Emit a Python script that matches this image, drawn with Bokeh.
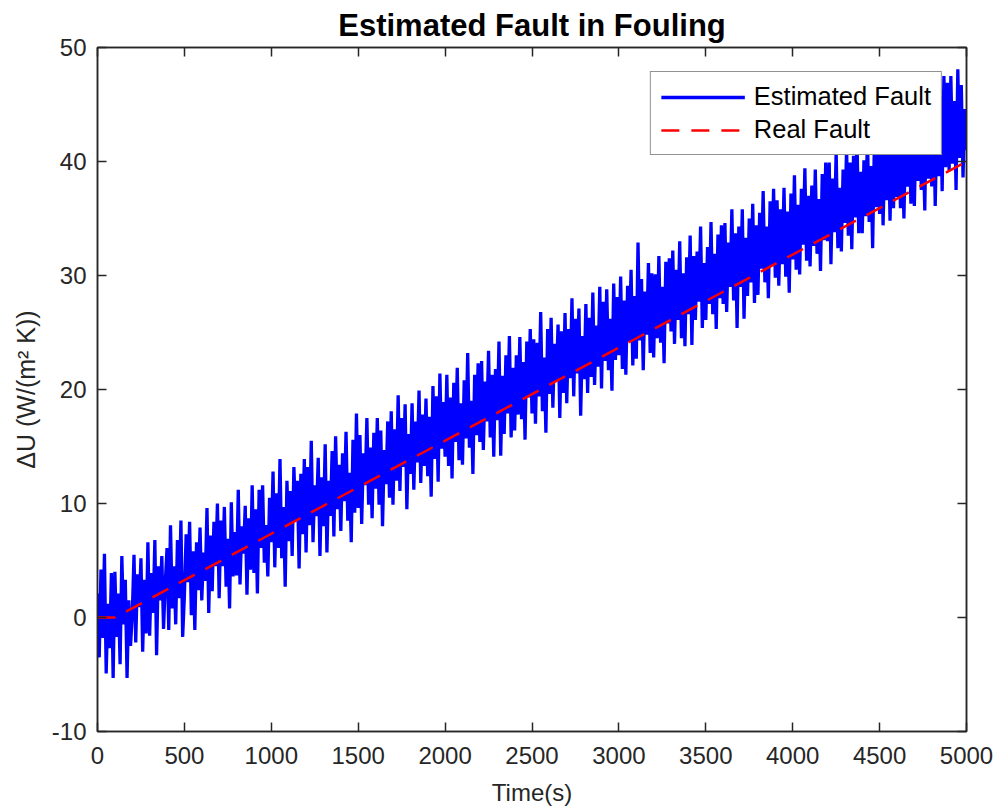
from bokeh.plotting import figure
from bokeh.models import Range1d, LinearAxis, FixedTicker, Legend, LegendItem
from bokeh.embed import file_html
from bokeh.resources import INLINE

# ---------------- data ----------------
time_s = list(range(0, 5001, 10))

estimated_fault = [
    2.1, -3.5, 4.2, -1.8, 5.6, -4.9, 1.2, -2.7, 3.9, -5.3,
    4.0, -1.7, 2.1, -4.1, 5.4, -0.6, 3.3, -5.3, 1.5, -2.5,
    0.2, 5.5, -2.2, 3.8, 0.9, 5.2, -3.0, 3.3, -1.4, 6.6,
    -1.6, 3.9, 0.4, 6.8, -3.3, 4.5, 1.5, 5.4, -1.0, 3.0,
    6.1, -1.1, 8.1, 0.8, 4.5, -0.6, 6.8, 1.7, 8.5, -1.7,
    1.9, 7.3, 3.1, 8.4, 0.2, 5.8, -1.1, 6.6, 2.4, 7.9,
    1.5, 5.7, 3.2, 9.6, 0.4, 7.2, 2.3, 8.4, 4.5, 10.0,
    1.7, 8.5, 4.5, 9.7, 2.7, 6.9, 0.8, 10.1, 3.6, 7.5,
    3.7, 11.2, 2.9, 8.0, 5.6, 9.8, 2.0, 8.7, 4.2, 11.6,
    3.9, 9.5, 2.1, 11.2, 6.1, 11.6, 4.8, 8.1, 3.6, 10.5,
    6.6, 12.8, 4.4, 10.9, 6.1, 13.9, 5.2, 9.7, 2.7, 12.0,
    6.7, 11.1, 5.4, 13.2, 8.5, 12.0, 4.3, 12.6, 7.3, 13.9,
    5.7, 13.2, 8.1, 15.5, 6.6, 11.6, 8.9, 14.0, 5.4, 12.3,
    8.0, 15.2, 5.7, 12.0, 8.9, 14.6, 7.1, 15.9, 9.5, 13.4,
    7.6, 14.4, 10.2, 16.3, 8.5, 12.7, 6.6, 15.6, 9.2, 17.9,
    9.6, 16.0, 8.2, 14.4, 11.6, 17.5, 9.9, 14.9, 8.7, 16.2,
    11.3, 17.5, 9.9, 16.4, 8.0, 14.7, 11.7, 17.2, 10.5, 18.1,
    9.9, 16.5, 12.0, 19.5, 11.1, 17.5, 13.2, 18.7, 9.5, 16.1,
    12.6, 18.8, 11.2, 17.2, 13.6, 19.9, 11.8, 17.8, 13.3, 19.2,
    12.4, 17.6, 10.6, 20.3, 13.9, 19.4, 11.9, 21.4, 14.8, 18.9,
    14.1, 21.3, 13.3, 19.3, 12.2, 20.6, 15.4, 21.9, 13.8, 18.8,
    13.4, 20.8, 15.7, 23.2, 14.9, 19.0, 12.6, 21.3, 16.0, 22.3,
    15.4, 22.5, 14.7, 20.7, 17.2, 23.4, 15.8, 21.3, 14.1, 21.8,
    17.3, 24.2, 14.2, 21.2, 16.1, 23.0, 17.9, 24.7, 15.8, 21.9,
    16.4, 23.0, 17.8, 24.6, 17.4, 22.4, 15.6, 24.2, 19.3, 25.3,
    17.9, 24.4, 17.0, 24.1, 19.4, 26.8, 18.1, 22.8, 16.2, 25.3,
    19.6, 26.3, 18.4, 24.0, 20.8, 25.7, 17.5, 25.1, 19.7, 26.7,
    18.8, 25.3, 21.0, 28.0, 19.4, 26.2, 21.4, 27.1, 17.7, 24.7,
    20.9, 27.5, 19.7, 26.3, 21.1, 28.5, 20.4, 25.6, 22.0, 29.0,
    20.1, 27.7, 22.5, 28.8, 21.7, 26.2, 19.9, 29.3, 22.6, 28.1,
    23.0, 29.9, 21.8, 27.8, 21.3, 29.1, 24.2, 30.5, 22.1, 28.2,
    22.7, 32.9, 24.3, 29.7, 21.7, 28.6, 24.8, 31.1, 23.2, 30.2,
    22.8, 30.1, 24.5, 31.7, 24.1, 29.0, 22.3, 31.2, 25.8, 31.5,
    25.1, 32.2, 24.0, 30.5, 26.1, 33.0, 24.5, 30.2, 23.8, 31.6,
    26.6, 33.5, 23.9, 31.7, 26.1, 32.1, 27.7, 34.3, 25.4, 31.1,
    26.1, 32.5, 27.5, 34.7, 26.6, 31.9, 25.3, 33.6, 28.0, 34.4,
    27.5, 34.6, 26.8, 32.9, 29.0, 35.8, 27.8, 33.7, 25.4, 34.3,
    29.0, 35.8, 26.2, 33.3, 28.2, 35.0, 29.4, 36.3, 27.6, 34.4,
    28.3, 35.5, 30.6, 37.4, 29.4, 34.3, 28.0, 36.5, 30.9, 37.6,
    29.8, 36.6, 29.1, 35.8, 31.0, 37.7, 29.9, 35.6, 28.5, 37.2,
    31.4, 38.8, 30.5, 36.2, 30.1, 37.6, 32.7, 39.4, 31.3, 37.0,
    30.8, 37.9, 32.6, 39.3, 31.9, 36.7, 30.4, 38.9, 33.1, 39.9,
    33.0, 39.9, 31.0, 38.5, 33.8, 40.9, 32.4, 37.7, 32.1, 39.3,
    34.6, 41.2, 33.5, 39.9, 32.3, 40.5, 35.1, 41.9, 33.7, 39.1,
    33.7, 40.1, 35.2, 42.2, 34.7, 39.6, 32.4, 41.7, 36.0, 42.5,
    35.4, 42.1, 34.4, 40.8, 36.6, 43.3, 34.8, 41.4, 35.9, 42.5,
    36.9, 43.8, 35.9, 41.1, 35.0, 42.6, 37.8, 43.6, 36.3, 42.3,
    36.1, 43.0, 38.3, 45.2, 37.5, 42.0, 35.7, 45.7, 38.5, 44.4,
    37.8, 44.9, 36.1, 43.5, 38.7, 45.7, 37.4, 47.5, 39.5, 46.9,
    39.2, 47.5, 39.8, 45.3, 37.5, 48.1, 40.3, 46.7, 38.6, 44.6,
    41.0,
]

real_time = [0, 100, 5000]
real_fault = [0, 0, 40]

x_ticks = list(range(0, 5001, 500))
y_ticks = list(range(-10, 51, 10))

title_text = "Estimated Fault in Fouling"
x_label = "Time(s)"
y_label = "\u0394U (W/(m\u00b2 K))"
legend_labels = ["Estimated Fault", "Real Fault"]

# ---------------- figure ----------------
FONT = "Liberation Sans"
INK = "#262626"

p = figure(width=998, height=812, output_backend="svg", toolbar_location=None,
           x_range=Range1d(0, 5000), y_range=Range1d(-10, 50),
           min_border_left=97, min_border_right=32,
           min_border_top=47, min_border_bottom=81,
           background_fill_color="white", border_fill_color="white")

p.title.text = title_text
p.title.align = "center"
p.title.text_font = FONT
p.title.text_font_size = "31px"
p.title.text_font_style = "bold"
p.title.text_color = "black"
p.title.standoff = 10

p.xgrid.visible = False
p.ygrid.visible = False
p.outline_line_color = INK
p.outline_line_width = 1.5

blue = p.line(time_s, estimated_fault, line_color="#0000FF", line_width=3.3)
red = p.line(real_time, real_fault, line_color="#FF0000", line_width=2.5,
             line_dash="18 12")


def style_axis(ax, labels=True):
    ax.axis_line_color = INK
    ax.axis_line_width = 1.5
    ax.major_tick_line_color = INK
    ax.major_tick_line_width = 1.5
    ax.major_tick_in = 9
    ax.major_tick_out = 0
    ax.minor_tick_line_color = None
    ax.major_label_text_font = FONT
    ax.major_label_text_color = INK
    ax.axis_label_text_font = FONT
    ax.axis_label_text_color = INK
    ax.axis_label_text_font_style = "normal"
    ax.axis_label_text_font_size = "24px"
    if labels:
        ax.major_label_text_font_size = "24px"
    else:
        # box-style ticks only: labels are not painted
        ax.major_label_text_font_size = "1px"
        ax.major_label_text_color = None
        ax.major_label_standoff = 0


xax = p.xaxis[0]
yax = p.yaxis[0]
xax.ticker = FixedTicker(ticks=x_ticks)
yax.ticker = FixedTicker(ticks=y_ticks)
xax.axis_label = x_label
yax.axis_label = y_label
style_axis(xax)
style_axis(yax)
yax.major_label_overrides = {t: str(t) for t in y_ticks}
yax.axis_label_text_font_size = "25px"
xax.major_label_standoff = 15
yax.major_label_standoff = 11
xax.axis_label_standoff = 12
yax.axis_label_standoff = 9

top_ax = LinearAxis(ticker=FixedTicker(ticks=x_ticks))
right_ax = LinearAxis(ticker=FixedTicker(ticks=y_ticks))
style_axis(top_ax, labels=False)
style_axis(right_ax, labels=False)
p.add_layout(top_ax, "above")
p.add_layout(right_ax, "right")

legend = Legend(items=[LegendItem(label=legend_labels[0], renderers=[blue]),
                       LegendItem(label=legend_labels[1], renderers=[red])],
                location="top_right")
legend.margin = 24
legend.padding = 10
legend.spacing = 4
legend.glyph_width = 84
legend.glyph_height = 26
legend.label_height = 26
legend.label_standoff = 9
legend.label_text_font = FONT
legend.label_text_font_size = "25.5px"
legend.label_text_color = "black"
legend.border_line_color = INK
legend.border_line_width = 1.5
legend.background_fill_color = "white"
legend.background_fill_alpha = 1.0
p.add_layout(legend)

open("out.html", "w").write(file_html(p, INLINE))
